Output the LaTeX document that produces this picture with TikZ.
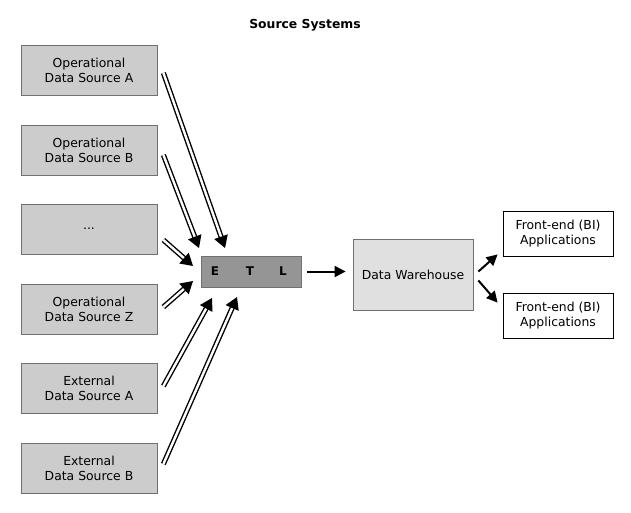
\documentclass[tikz,border=0pt]{standalone}
\usepackage{fontspec}
\setmainfont{DejaVu Sans}
\usetikzlibrary{arrows.meta,calc}
\definecolor{srcfill}{HTML}{CCCCCC}
\definecolor{boxline}{HTML}{707070}
\definecolor{etlfill}{HTML}{959595}
\definecolor{dwfill}{HTML}{E0E0E0}
\begin{document}
\begin{tikzpicture}[x=1pt,y=-1pt,
  every node/.style={font=\fontsize{12.4}{15}\selectfont},
  srcbox/.style={draw=boxline,fill=srcfill,line width=0.8pt,minimum width=136pt,minimum height=50pt,align=center,inner sep=0pt},
  etlbox/.style={draw=boxline,fill=etlfill,line width=0.8pt,minimum width=100pt,minimum height=31pt,inner sep=0pt},
  dwbox/.style={draw=boxline,fill=dwfill,line width=0.8pt,minimum width=120pt,minimum height=71pt,align=center,inner sep=0pt},
  febox/.style={draw=black,fill=white,line width=0.8pt,minimum width=110pt,minimum height=45pt,align=center,inner sep=0pt},
  lettr/.style={font=\fontsize{12}{15}\selectfont\bfseries,inner sep=0pt},
  dbl/.style={double=white,double distance=2.4pt,line width=1.4pt,draw=black,-{Triangle[width=14pt,length=12pt]}},
  sgl/.style={line width=2pt,draw=black,-{Triangle[width=11pt,length=11pt]}}]
\useasboundingbox (0,0) rectangle (631,512);
\node[font=\fontsize{12.4}{15}\selectfont\bfseries] (title) at (305,25) {Source Systems};
\node[srcbox] (srcA) at (89,70) {Operational\\Data Source A};
\node[srcbox] (srcB) at (89,150) {Operational\\Data Source B};
\node[srcbox] (srcD) at (89,229) {...};
\node[srcbox] (srcZ) at (89,309) {Operational\\Data Source Z};
\node[srcbox] (extA) at (89,388) {External\\Data Source A};
\node[srcbox] (extB) at (89,468) {External\\Data Source B};
\node[etlbox] (etl) at (251,271.5) {};
\node[lettr] (E) at (215,271.5) {E};
\node[lettr] (T) at (250,271.5) {T};
\node[lettr] (L) at (283,271.5) {L};
\node[dwbox] (dw) at (413,274.5) {Data Warehouse};
\node[febox] (fe1) at (558,233.5) {Front-end (BI)\\Applications};
\node[febox] (fe2) at (558,315.5) {Front-end (BI)\\Applications};
\coordinate (tA) at (225,248);
\coordinate (tB) at (199,248);
\coordinate (tD) at (193,266);
\coordinate (tZ) at (193,281);
\coordinate (tEA) at (212,298);
\coordinate (tEB) at (237,297);
\draw[dbl] ([shift={(6,3)}]srcA.east) -- (tA);
\draw[dbl] ([shift={(6,5)}]srcB.east) -- (tB);
\draw[dbl] ([shift={(6,11)}]srcD.east) -- (tD);
\draw[dbl] ([shift={(6,-2)}]srcZ.east) -- (tZ);
\draw[dbl] ([shift={(6,-2)}]extA.east) -- (tEA);
\draw[dbl] ([shift={(6,-4)}]extB.east) -- (tEB);
\draw[sgl] ([xshift=6pt]etl.east) -- ([shift={(-7,-3)}]dw.west);
\draw[sgl] ([shift={(5,-3)}]dw.east) -- ([shift={(-5,-2)}]fe1.south west);
\draw[sgl] ([shift={(5,6)}]dw.east) -- ([shift={(-5,10)}]fe2.north west);
\end{tikzpicture}
\end{document}
